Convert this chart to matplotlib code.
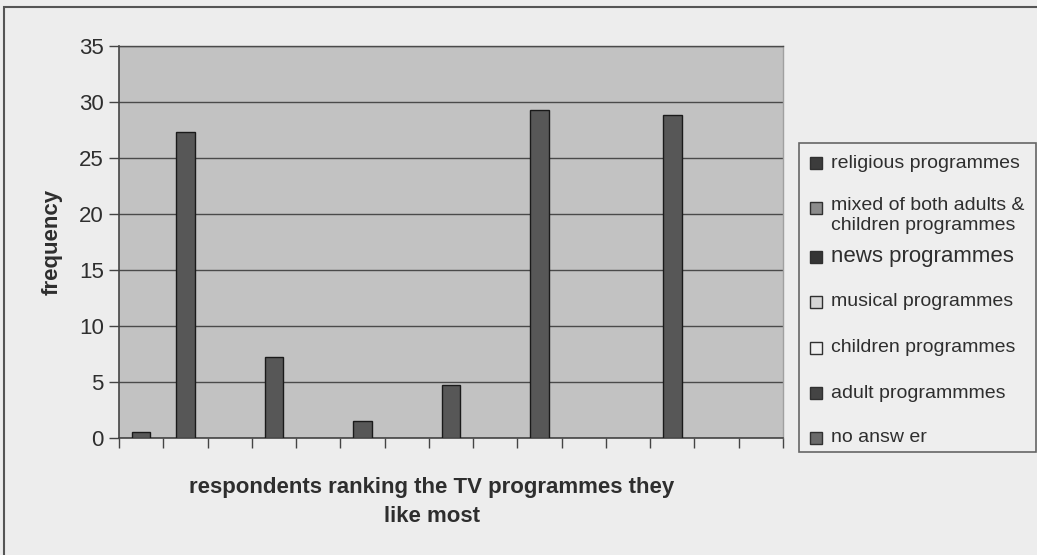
#bar chart: TV programmes respondents like most
import matplotlib.pyplot as plt
from matplotlib.patches import Rectangle
import numpy as np

# Data: 15 category slots along the x axis (no tick labels in the original)
slot_values = [0.5, 27.3, 0, 7.2, 0, 1.5, 0, 4.7, 0, 29.3, 0, 0, 28.8, 0, 0]
y_ticks = [0, 5, 10, 15, 20, 25, 30, 35]

legend_labels = [
    "religious programmes",
    "mixed of both adults &\nchildren programmes",
    "news programmes",
    "musical programmes",
    "children programmes",
    "adult programmmes",
    "no answ er",
]
legend_faces = ["#3c3c3c", "#8c8c8c", "#353535", "#d6d6d6", "#efefef", "#444444", "#6a6a6a"]

x_label = "respondents ranking the TV programmes they\nlike most"
y_label = "frequency"

W, H = 1037, 555
plt.rcParams['font.family'] = ['Liberation Sans', 'DejaVu Sans']
text_col = "#2e2e2e"


def fx(px):
    return px / W


def fy(py):
    return 1 - py / H


fig = plt.figure(figsize=(W / 100, H / 100), dpi=100)
fig.patch.set_facecolor("#ededed")

# outer frame of the chart
fig.add_artist(Rectangle((fx(4), fy(560)), fx(1040) - fx(4), fy(7) - fy(560),
                         transform=fig.transFigure, fill=False, edgecolor="#555555", linewidth=1.5))

ax = fig.add_axes([fx(119), fy(438), fx(783) - fx(119), fy(46) - fy(438)])
ax.set_facecolor("#c2c2c2")

x = np.arange(len(slot_values))
vals = np.array(slot_values, dtype=float)
shown = vals > 0
ax.bar(x[shown] + 0.5, vals[shown], width=0.42, color="#575757", edgecolor="#1a1a1a", linewidth=1.0, zorder=3)

ax.set_xlim(0, len(slot_values))
ax.set_ylim(0, 35)
ax.set_yticks(y_ticks)
ax.set_xticks(np.arange(len(slot_values) + 1))
ax.set_xticklabels([])
ax.yaxis.grid(True, color="#4a4a4a", linewidth=1.0, zorder=1)
ax.set_axisbelow(True)

ax.tick_params(axis='y', direction='out', length=7, width=1, color="#444444",
               labelsize=16, labelcolor=text_col, pad=4)
ax.tick_params(axis='x', direction='out', length=7, width=1, color="#444444")
ax.spines["right"].set_color("#a0a0a0")
ax.spines["right"].set_linewidth(1)
ax.spines["top"].set_color("#4a4a4a")
ax.spines["top"].set_linewidth(1)
for side in ["left", "bottom"]:
    ax.spines[side].set_color("#444444")
    ax.spines[side].set_linewidth(1.2)

ax.set_ylabel(y_label, fontsize=16, fontweight='bold', color=text_col, labelpad=12)
fig.text(fx(432), fy(502), x_label, ha='center', va='center', fontsize=16,
         fontweight='bold', color=text_col, linespacing=1.45)

# legend box on the right
fig.add_artist(Rectangle((fx(799), fy(452)), fx(1036) - fx(799), fy(143) - fy(452),
                         transform=fig.transFigure, facecolor="#eeeeee", edgecolor="#666666", linewidth=1.2))
row_y = [163, 208, 257, 302, 348, 393, 438]
for i, (lab, fc) in enumerate(zip(legend_labels, legend_faces)):
    yc = row_y[i]
    fig.add_artist(Rectangle((fx(810), fy(yc + 6)), fx(12), fy(0) - fy(12),
                             transform=fig.transFigure, facecolor=fc, edgecolor="#303030", linewidth=1))
    size = 16 if i == 2 else 14
    if "\n" in lab:
        fig.text(fx(831), fy(yc - 11), lab, ha='left', va='top', fontsize=size,
                 color=text_col, linespacing=1.2)
    else:
        fig.text(fx(831), fy(yc), lab, ha='left', va='center', fontsize=size, color=text_col)

fig.savefig("out.png", dpi=100, facecolor=fig.get_facecolor())
